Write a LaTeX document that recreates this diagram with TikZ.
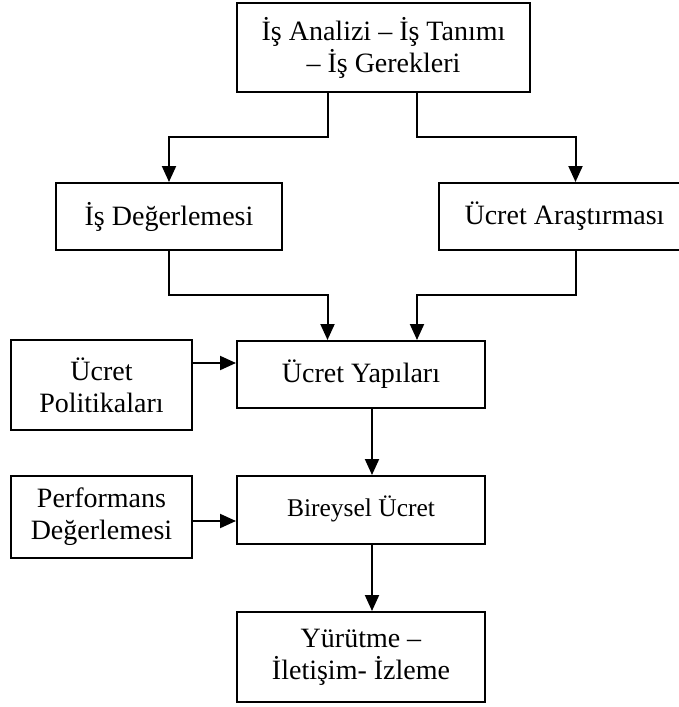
\documentclass[tikz,border=0pt]{standalone}
\usepackage{fontspec}
\setmainfont{Liberation Serif}
\usetikzlibrary{arrows.meta}

\begin{document}
\begin{tikzpicture}[x=1pt, y=-1pt,
  box/.style={draw, line width=2pt, align=center, inner sep=0pt,
    font=\fontsize{28}{32}\selectfont},
  smalltext/.style={font=\fontsize{25.5}{30}\selectfont},
  arr/.style={line width=2pt, -{Triangle[length=16pt, width=14pt]}}]

  \useasboundingbox (0,0) rectangle (678,707);

  % boxes
  \node[box, minimum width=293pt, minimum height=89pt] (top) at (383.5,47.5)
    {İş Analizi – İş Tanımı\\– İş Gerekleri};
  \node[box, minimum width=226pt, minimum height=67pt] (isd) at (169,216.5)
    {İş Değerlemesi};
  \node[box, minimum width=251pt, minimum height=67pt] (ucar) at (564.5,216.5)
    {Ücret Araştırması};
  \node[box, minimum width=181pt, minimum height=90pt] (pol) at (101.5,385)
    {Ücret\\Politikaları};
  \node[box, minimum width=248pt, minimum height=67pt] (yap) at (361,374.5)
    {Ücret Yapıları};
  \node[box, minimum width=181pt, minimum height=82pt] (perf) at (101.5,517)
    {Performans\\Değerlemesi};
  \node[box, smalltext, minimum width=248pt, minimum height=68pt] (bir) at (361,510)
    {\raisebox{8pt}{Bireysel Ücret}};
  \node[box, minimum width=248pt, minimum height=90pt] (yur) at (361,657)
    {Yürütme –\\İletişim- İzleme};

  % junction points of the elbow connectors
  \coordinate (tl) at (327.5,137);
  \coordinate (tr) at (417,137);
  \coordinate (jl) at (327.5,295);
  \coordinate (jr) at (417,295);
  \coordinate (rx) at (575.5,0);
  \coordinate (cx) at (372,0);
  \coordinate (ya) at (0,363);
  \coordinate (ba) at (0,521);

  % connectors
  \draw[arr] (tl |- top.south) -- (tl) -| (isd.north);
  \draw[arr] (tr |- top.south) -- (tr) -| (ucar.north -| rx);
  \draw[arr] (isd.south) |- (jl) -- (jl |- yap.north);
  \draw[arr] (ucar.south -| rx) |- (jr) -- (jr |- yap.north);
  \draw[arr] (pol.east |- ya) -- (yap.west |- ya);
  \draw[arr] (yap.south -| cx) -- (bir.north -| cx);
  \draw[arr] (perf.east |- ba) -- (bir.west |- ba);
  \draw[arr] (bir.south -| cx) -- (yur.north -| cx);
\end{tikzpicture}
\end{document}
